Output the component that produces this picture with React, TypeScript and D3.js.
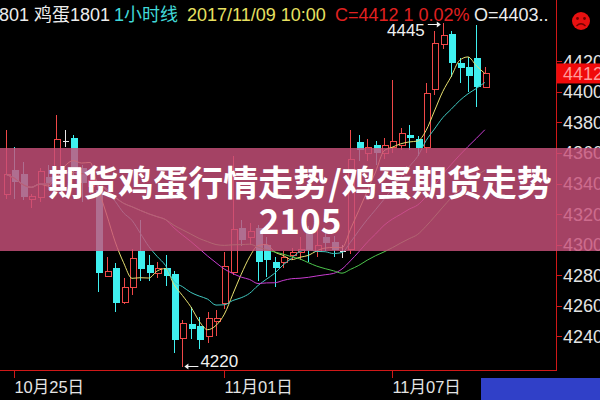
import React from "react";
import * as d3 from "d3";

// ---- data (1-hour bars, 鸡蛋1801) ----
const opens = [4333,4349,4346,4330,4331,4344,4340,4368,4370,4350,4338,4336,4280,4285,4262,4272,4296,4287,4282,4285,4281,4239,4248,4247,4240,4250,4262,4282,4311,4305,4311,4300,4289,4289,4293,4295,4308,4296,4305,4302,4296,4297,4367,4360,4365,4360,4364,4365,4372,4369,4364,4402,4431,4438,4419,4416,4422,4403];
const highs = [4375,4364,4354,4333,4350,4352,4385,4375,4372,4352,4348,4340,4292,4288,4278,4297,4316,4293,4289,4293,4283,4251,4259,4253,4256,4257,4295,4358,4316,4314,4313,4305,4292,4296,4298,4305,4312,4310,4310,4306,4300,4375,4372,4369,4368,4370,4408,4376,4378,4371,4406,4440,4445,4440,4422,4423,4444,4416];
const lows = [4330,4330,4329,4324,4328,4336,4335,4364,4345,4328,4333,4269,4279,4256,4261,4267,4276,4276,4278,4273,4229,4220,4238,4232,4236,4240,4258,4280,4299,4300,4276,4279,4272,4285,4290,4290,4289,4292,4296,4292,4291,4294,4355,4355,4352,4356,4360,4362,4362,4358,4360,4398,4428,4410,4406,4400,4390,4403];
const closes = [4346,4341,4331,4332,4348,4340,4369,4368,4350,4340,4342,4282,4283,4262,4272,4291,4284,4282,4285,4280,4238,4249,4245,4238,4252,4252,4286,4310,4303,4309,4289,4290,4285,4292,4295,4297,4296,4300,4301,4297,4296,4356,4362,4364,4360,4365,4368,4373,4370,4363,4399,4432,4437,4419,4416,4410,4403,4412];

const priceTicks = [4420, 4400, 4380, 4360, 4340, 4320, 4300, 4280, 4260, 4240];
const dateTicks = [
  { index: 1, label: "10月25日" },
  { index: 26, label: "11月01日" },
  { index: 46, label: "11月07日" },
];
const maPeriods = [5, 10, 20, 30];
const maColors = ["#e8e070", "#40c8c0", "#c83cd0", "#4cc44c"];

const titleLine1 = "期货鸡蛋行情走势/鸡蛋期货走势";
const titleLine2 = "2105";

const W = 600;
const H = 400;
const FONT = "'Liberation Sans', 'Noto Sans CJK SC', sans-serif";

function movingAverage(values: number[], period: number): number[] {
  return values.map((_, i) => {
    const start = Math.max(0, i - period + 1);
    const slice = values.slice(start, i + 1);
    return d3.mean(slice) as number;
  });
}

export default function App() {
  const x = d3.scaleLinear().domain([0, closes.length - 1]).range([6, 484.8]);
  const y = d3.scaleLinear().domain([4220, 4445]).range([367, 23]);
  const bodyW = 6;

  const maxIdx = d3.maxIndex(highs);
  const minIdx = d3.minIndex(lows);

  const line = d3
    .line<number>()
    .x((_, i) => x(i))
    .y((v) => y(v))
    .curve(d3.curveMonotoneX);

  return (
    <svg
      width={W}
      height={H}
      style={{ position: "absolute", left: 0, top: 0, background: "#000" }}
      fontFamily={FONT}
    >
      <rect x={0} y={0} width={W} height={H} fill="#000" />

      {/* candles */}
      <g shapeRendering="crispEdges">
        {closes.map((c, i) => {
          const o = opens[i];
          const cx = Math.round(x(i)) + 0.5;
          const up = c > o;
          const flat = c === o;
          const color = flat ? "#e8e8e8" : up ? "#f04848" : "#3ff0f0";
          const top = y(Math.max(o, c));
          const bot = y(Math.min(o, c));
          return (
            <g key={i}>
              <line x1={cx} x2={cx} y1={y(highs[i])} y2={y(lows[i])} stroke={color} strokeWidth={1} />
              {flat ? (
                <line x1={cx - bodyW / 2} x2={cx + bodyW / 2} y1={Math.round(top) + 0.5} y2={Math.round(top) + 0.5} stroke={color} />
              ) : up ? (
                <rect
                  x={Math.round(cx - bodyW / 2) + 0.5}
                  y={Math.round(top) + 0.5}
                  width={bodyW}
                  height={Math.max(1, Math.round(bot - top))}
                  fill="#000"
                  stroke={color}
                />
              ) : (
                <rect
                  x={Math.round(cx - bodyW / 2)}
                  y={Math.round(top)}
                  width={bodyW + 1}
                  height={Math.max(1, Math.round(bot - top))}
                  fill={color}
                />
              )}
            </g>
          );
        })}
      </g>

      {/* moving averages */}
      {maPeriods.map((p, k) => (
        <path key={p} d={line(movingAverage(closes, p)) || ""} fill="none" stroke={maColors[k]} strokeWidth={1} />
      ))}

      {/* high / low markers */}
      <text x={x(maxIdx) - 18} y={36} fill="#f0f0f0" fontSize={17} textAnchor="end">
        {highs[maxIdx]}
      </text>
      <line x1={x(maxIdx) - 15} x2={x(maxIdx) - 3} y1={24.5} y2={24.5} stroke="#f0f0f0" />
      <path d={`M${x(maxIdx) - 2},24.5 l-4,-3 v6 z`} fill="#f0f0f0" />
      <line x1={x(minIdx) + 3} x2={x(minIdx) + 16} y1={366.5} y2={366.5} stroke="#f0f0f0" />
      <path d={`M${x(minIdx) + 2},366.5 l4,-3 v6 z`} fill="#f0f0f0" />
      <text x={x(minIdx) + 18} y={367} fill="#f0f0f0" fontSize={17}>
        {lows[minIdx]}
      </text>

      {/* frame */}
      <g shapeRendering="crispEdges">
        <line x1={556.5} x2={556.5} y1={0} y2={370} stroke="#d01818" strokeWidth={1.5} />
        <line x1={0} x2={557} y1={370.5} y2={370.5} stroke="#d01818" strokeWidth={1.5} />
        {dateTicks.map((t) => (
          <line key={t.label} x1={Math.round(x(t.index)) + 0.5} x2={Math.round(x(t.index)) + 0.5} y1={371} y2={378} stroke="#d01818" />
        ))}
        {priceTicks.map((p) => (
          <line key={p} x1={556} x2={562} y1={Math.round(y(p)) + 0.5} y2={Math.round(y(p)) + 0.5} stroke="#d01818" />
        ))}
      </g>

      {/* price axis labels */}
      {priceTicks.map((p) => (
        <text key={p} x={563} y={y(p)} dy="0.36em" fill="#e4e4e4" fontSize={18}>
          {p}
        </text>
      ))}
      {/* current price box */}
      <rect x={557} y={y(closes[closes.length - 1]) - 10} width={43} height={20} fill="#f00a0a" />
      <text x={563} y={y(closes[closes.length - 1])} dy="0.36em" fill="#ff9a9a" fontSize={18}>
        {closes[closes.length - 1]}
      </text>

      {/* date labels */}
      {dateTicks.map((t) => (
        <text key={t.label} x={x(t.index)} y={393} fill="#e4e4e4" fontSize={16.5}>
          {t.label}
        </text>
      ))}
      <rect x={481} y={378} width={119} height={22} fill="#3040c8" />

      {/* header */}
      <text y={21} fontSize={18}>
        <tspan x={-1} fill="#ececec">801 鸡蛋1801</tspan>
        <tspan x={114} fill="#40d8d8">1小时线</tspan>
        <tspan x={187} fill="#e8e060">2017/11/09 10:00</tspan>
        <tspan x={335} fill="#e02020">C=4412 1 0.02%</tspan>
        <tspan x={474} fill="#ececec">O=4403..</tspan>
      </text>

      {/* sad face */}
      <g>
        <circle cx={581} cy={21} r={9} fill="#e81010" />
        <circle cx={577.5} cy={18.5} r={1.4} fill="#700000" />
        <circle cx={584.5} cy={18.5} r={1.4} fill="#700000" />
        <path d="M576.5,26 Q581,21.5 585.5,26" fill="none" stroke="#700000" strokeWidth={1.3} />
      </g>

      {/* title banner */}
      <rect x={0} y={148} width={W} height={103} fill="#c8507a" fillOpacity={0.82} />
      <text
        x={300}
        y={196}
        textAnchor="middle"
        fill="#ffffff"
        fontSize={35}
        fontWeight={700}
        fontFamily="'Noto Sans CJK SC', sans-serif"
      >
        {titleLine1}
      </text>
      <text
        x={300}
        y={234}
        textAnchor="middle"
        fill="#ffffff"
        fontSize={35}
        fontWeight={700}
        fontFamily="'Noto Sans CJK SC', sans-serif"
      >
        {titleLine2}
      </text>
    </svg>
  );
}
